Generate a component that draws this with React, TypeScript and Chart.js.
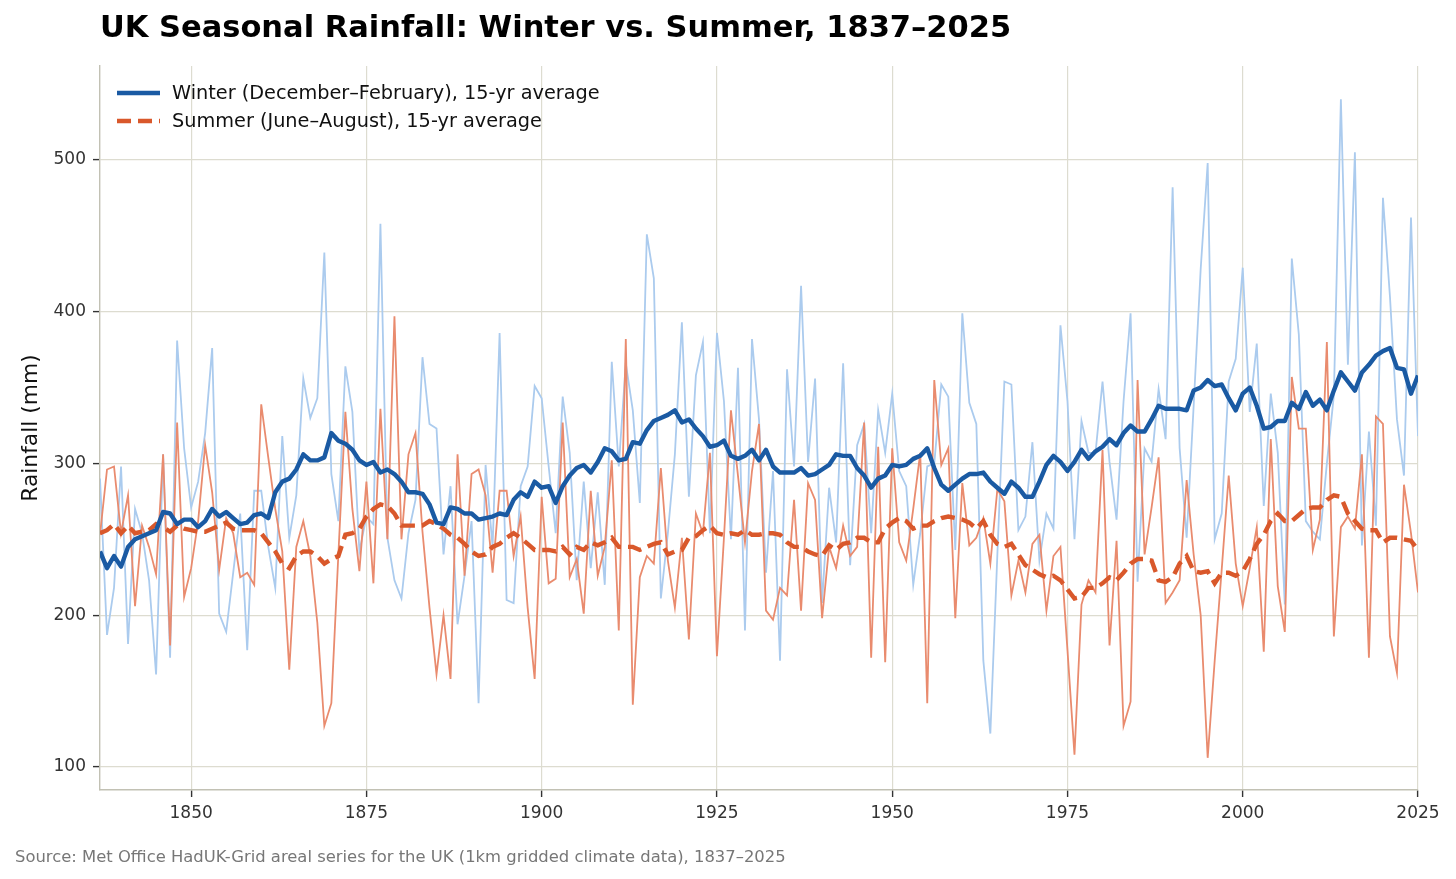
import React, { useEffect, useRef } from 'react';
import { Chart, registerables } from 'chart.js';

Chart.register(...registerables);

// years 1837..2025
const years = Array.from({ length: 189 }, (_, i) => 1837 + i);

// Winter (Dec–Feb) totals, mm
const winterRaw = [
  290, 187, 218,
  298, 181, 270, 254, 223, 161, 306, 172, 381, 310,
  271, 288, 320, 376, 201, 189, 228, 267, 177, 282,
  282, 245, 218, 318, 251, 279, 356, 330, 343, 439,
  293, 262, 364, 334, 242, 265, 260, 458, 251, 223,
  211, 254, 276, 370, 326, 323, 240, 285, 194, 226,
  262, 142, 299, 245, 386, 210, 208, 285, 298, 351,
  343, 298, 254, 344, 307, 223, 288, 231, 281, 220,
  367, 298, 366, 335, 274, 451, 422, 211, 254, 306,
  393, 278, 358, 380, 254, 386, 341, 250, 363, 190,
  382, 329, 228, 295, 170, 362, 298, 417, 301, 356,
  208, 284, 248, 366, 233, 312, 326, 254, 335, 307,
  346, 295, 285, 220, 254, 298, 300, 352, 344, 243,
  399, 340, 326, 170, 122, 240, 354, 352, 256, 265,
  314, 236, 267, 257, 391, 341, 250, 328, 307, 307,
  354, 301, 263, 341, 399, 222, 310, 301, 349, 316,
  482, 310, 251, 338, 428, 498, 250, 267, 354, 369,
  429, 334, 379, 272, 346, 307, 207, 435, 385, 262,
  255, 250, 300, 345, 540, 365, 505, 246, 321, 259,
  475, 410, 329, 292, 462, 318,
];

// Winter 15-yr average, mm
const winterAvg = [
  242, 231, 239,
  232, 245, 250, 252, 254, 256, 268, 267, 260, 263,
  263, 258, 262, 270, 265, 268, 264, 260, 261, 266,
  267, 264, 281, 288, 290, 296, 306, 302, 302, 304,
  320, 315, 313, 309, 302, 299, 301, 294, 296, 293,
  288, 281, 281, 280, 273, 261, 260, 271, 270, 267,
  267, 263, 264, 265, 267, 266, 276, 281, 278, 288,
  284, 285, 274, 285, 292, 297, 299, 294, 301, 310,
  308, 302, 303, 314, 313, 322, 328, 330, 332, 335,
  327, 329, 323, 318, 311, 312, 315, 305, 303, 305,
  309, 302, 309, 298, 294, 294, 294, 297, 292, 293,
  296, 299, 306, 305, 305, 297, 292, 284, 290, 292,
  299, 298, 299, 303, 305, 310, 297, 286, 282, 286,
  290, 293, 293, 294, 288, 284, 280, 288, 284, 278,
  278, 288, 299, 305, 301, 295, 301, 309, 303, 308,
  311, 316, 312, 320, 325, 321, 321, 329, 338, 336,
  336, 336, 335, 348, 350, 355, 351, 352, 343, 335,
  346, 350, 338, 323, 324, 328, 328, 340, 336, 347,
  338, 342, 335, 348, 360, 354, 348, 360, 365, 371,
  374, 376, 363, 362, 346, 358,
];

// Summer (Jun–Aug) totals, mm
const summerRaw = [
  253, 296, 298,
  254, 279, 206, 259, 245, 227, 306, 180, 327, 212,
  231, 262, 312, 281, 230, 264, 254, 225, 228, 220,
  339, 304, 270, 242, 164, 245, 262, 239, 195, 127,
  142, 240, 334, 270, 229, 288, 221, 336, 250, 397,
  250, 306, 320, 255, 205, 161, 200, 158, 306, 226,
  293, 296, 279, 228, 282, 282, 239, 265, 205, 158,
  278, 221, 224, 327, 225, 237, 201, 282, 226, 245,
  302, 190, 382, 141, 225, 239, 234, 297, 236, 205,
  251, 184, 267, 254, 307, 173, 251, 335, 292, 248,
  295, 326, 203, 197, 218, 213, 276, 203, 287, 276,
  198, 245, 231, 259, 239, 245, 327, 172, 311, 169,
  310, 248, 236, 270, 307, 142, 355, 299, 310, 198,
  287, 246, 251, 264, 234, 283, 275, 213, 236, 215,
  247, 253, 203, 239, 245, 177, 108, 207, 223, 215,
  309, 180, 249, 127, 143, 355, 240, 271, 304, 208,
  215, 223, 289, 240, 200, 106, 170, 230, 292, 234,
  206, 231, 258, 176, 316, 219, 189, 357, 323, 323,
  243, 263, 380, 186, 258, 265, 257, 306, 172, 331,
  326, 186, 162, 286, 254, 215,
];

// Summer 15-yr average, mm
const summerAvg = [
  254, 256, 260,
  254, 259, 254, 255, 256, 260, 258, 255, 259, 257,
  256, 255, 255, 257, 259, 261, 257, 256, 256, 256,
  254, 248, 242, 234, 231, 239, 242, 242, 239, 234,
  237, 239, 253, 254, 257, 265, 270, 273, 272, 267,
  259, 259, 259, 259, 262, 260, 257, 253, 251, 247,
  242, 239, 240, 245, 247, 251, 254, 251, 247, 243,
  243, 243, 242, 245, 240, 245, 243, 248, 246, 248,
  251, 245, 245, 245, 243, 245, 247, 248, 240, 242,
  243, 251, 252, 256, 259, 254, 253, 254, 253, 256,
  253, 253, 254, 254, 253, 248, 245, 245, 242, 240,
  239, 246, 243, 247, 248, 251, 251, 248, 248, 257,
  261, 264, 262, 257, 259, 259, 262, 264, 265, 264,
  263, 261, 257, 262, 253, 247, 245, 247, 240, 233,
  230, 227, 225, 226, 223, 217, 211, 212, 218, 218,
  221, 225, 223, 228, 234, 237, 237, 236, 223, 222,
  225, 234, 239, 229, 228, 229, 221, 228, 228, 226,
  229, 237, 247, 253, 262, 267, 262, 262, 266, 270,
  271, 271, 276, 279, 278, 267, 262, 257, 256, 256,
  248, 251, 251, 250, 249, 243,
];

const xTicks = [1850, 1875, 1900, 1925, 1950, 1975, 2000, 2025];
const yTicks = [100, 200, 300, 400, 500];

const legendLabels = [
  'Winter (December–February), 15-yr average',
  'Summer (June–August), 15-yr average',
];

const FONT = "'DejaVu Sans', sans-serif";
const GRID = '#dddcd0';
const SPINE = '#c2c1b4';
const DASH = [14, 7];

const toPoints = (vals: number[]) => years.map((yr, i) => ({ x: yr, y: vals[i] }));

// legend drawn in the top-left corner of the plot area
const cornerLegend = {
  id: 'cornerLegend',
  afterDraw(chart: any) {
    const { ctx, chartArea } = chart;
    const items = [
      { label: legendLabels[0], color: '#1a5aa3', dash: [] as number[] },
      { label: legendLabels[1], color: '#d9582b', dash: DASH },
    ];
    ctx.save();
    items.forEach((it, i) => {
      const y = chartArea.top + 27 + i * 28;
      ctx.beginPath();
      ctx.setLineDash(it.dash);
      ctx.lineWidth = 4.4;
      ctx.strokeStyle = it.color;
      ctx.moveTo(chartArea.left + 17, y);
      ctx.lineTo(chartArea.left + 60, y);
      ctx.stroke();
      ctx.setLineDash([]);
      ctx.fillStyle = '#111';
      ctx.font = `19.3px ${FONT}`;
      ctx.textBaseline = 'middle';
      ctx.fillText(it.label, chartArea.left + 72, y + 1);
    });
    ctx.restore();
  },
};

const RainfallChart: React.FC = () => {
  const canvasRef = useRef<HTMLCanvasElement>(null);
  const chartRef = useRef<Chart | null>(null);

  useEffect(() => {
    if (!canvasRef.current) return;
    if (chartRef.current) chartRef.current.destroy();

    chartRef.current = new Chart(canvasRef.current, {
      type: 'line',
      data: {
        datasets: [
          {
            label: legendLabels[0],
            data: toPoints(winterAvg),
            borderColor: '#1a5aa3',
            borderWidth: 4.4,
            pointRadius: 0,
            borderJoinStyle: 'round',
            order: 0,
          },
          {
            label: legendLabels[1],
            data: toPoints(summerAvg),
            borderColor: '#d9582b',
            borderWidth: 4.4,
            borderDash: DASH,
            pointRadius: 0,
            order: 1,
          },
          {
            label: 'Summer',
            data: toPoints(summerRaw),
            borderColor: '#e98b6e',
            borderWidth: 1.8,
            pointRadius: 0,
            order: 2,
          },
          {
            label: 'Winter',
            data: toPoints(winterRaw),
            borderColor: '#abcbee',
            borderWidth: 1.8,
            pointRadius: 0,
            order: 3,
          },
        ],
      },
      options: {
        animation: false,
        responsive: true,
        maintainAspectRatio: false,
        events: [],
        layout: { padding: { top: 66, right: 38, left: 0, bottom: 0 } },
        plugins: {
          legend: { display: false },
          tooltip: { enabled: false },
        },
        scales: {
          x: {
            type: 'linear',
            min: 1837,
            max: 2025,
            afterBuildTicks: (s: any) => {
              s.ticks = xTicks.map((v) => ({ value: v }));
            },
            afterFit: (s: any) => {
              s.height = 89;
            },
            grid: { color: GRID, lineWidth: 1.2, tickLength: 7, tickColor: '#333', tickWidth: 1.4 },
            border: { color: SPINE, width: 1.4 },
            ticks: {
              color: '#333',
              font: { family: FONT, size: 17 },
              padding: 6,
              maxRotation: 0,
              callback: (v: any) => String(v),
            },
          },
          y: {
            type: 'linear',
            min: 84.8,
            max: 561.9,
            afterBuildTicks: (s: any) => {
              s.ticks = yTicks.map((v) => ({ value: v }));
            },
            afterFit: (s: any) => {
              s.width = 100;
            },
            grid: { color: GRID, lineWidth: 1.2, tickLength: 7, tickColor: '#333', tickWidth: 1.4 },
            border: { color: SPINE, width: 1.4 },
            ticks: {
              color: '#333',
              font: { family: FONT, size: 17 },
              padding: 7,
              callback: (v: any) => String(v),
            },
            title: {
              display: true,
              text: 'Rainfall (mm)',
              color: '#111',
              font: { family: FONT, size: 21.8 },
              padding: { top: 18, bottom: 0 },
            },
          },
        },
      },
      plugins: [cornerLegend],
    });

    return () => {
      if (chartRef.current) {
        chartRef.current.destroy();
        chartRef.current = null;
      }
    };
  }, []);

  return <canvas ref={canvasRef} />;
};

export default function App() {
  useEffect(() => {
    document.body.style.margin = '0';
  }, []);

  return (
    <div style={{ position: 'relative', width: 1456, height: 879, background: '#fff', fontFamily: FONT }}>
      <div style={{ position: 'absolute', left: 0, top: 0, width: 1456, height: 879 }}>
        <RainfallChart />
      </div>
      <div
        style={{
          position: 'absolute',
          left: 100,
          top: 9,
          fontSize: 30.5,
          fontWeight: 'bold',
          color: '#000',
          whiteSpace: 'nowrap',
        }}
      >
        UK Seasonal Rainfall: Winter vs. Summer, 1837–2025
      </div>
      <div
        style={{
          position: 'absolute',
          left: 15,
          top: 847,
          fontSize: 16.4,
          color: '#777',
          whiteSpace: 'nowrap',
        }}
      >
        Source: Met Office HadUK-Grid areal series for the UK (1km gridded climate data), 1837–2025
      </div>
    </div>
  );
}
